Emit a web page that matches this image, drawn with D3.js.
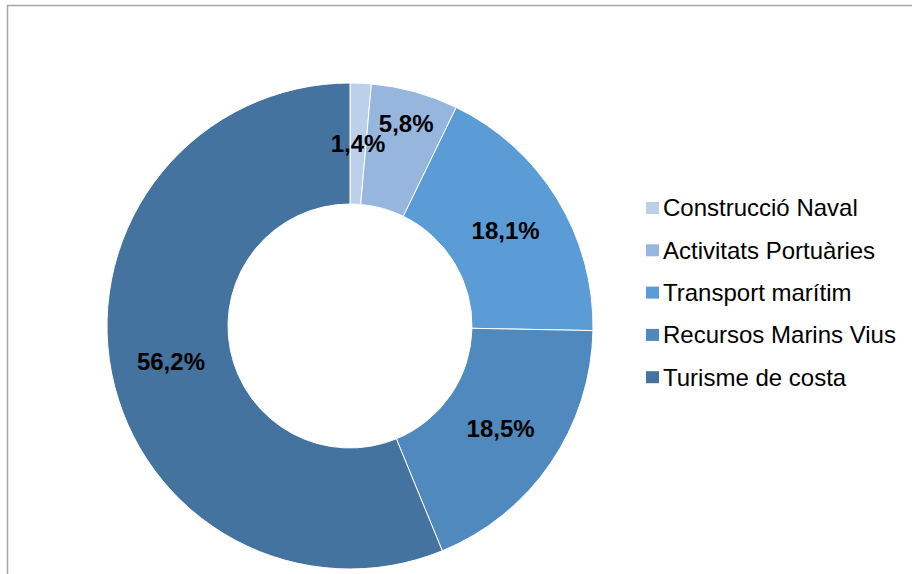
<!DOCTYPE html>
<html>
<head>
<meta charset="utf-8">
<script src="https://cdn.jsdelivr.net/npm/d3@7"></script>
<style>
  body { margin: 0; background: #fff; }
  svg { display: block; font-family: "Liberation Sans", Arial, sans-serif; }
</style>
</head>
<body>
<div id="chart"></div>
<script>
// sectors and their share (%)
var categories = ["Construcció Naval", "Activitats Portuàries", "Transport marítim", "Recursos Marins Vius", "Turisme de costa"];
var values = [1.4, 5.8, 18.1, 18.5, 56.2];
var labels = ["1,4%", "5,8%", "18,1%", "18,5%", "56,2%"];
var colours = ["#bcd0ea", "#97b6de", "#5b9bd6", "#4f89bd", "#44739f"];

var width = 912, height = 574;
var cx = 350, cy = 326;
var outerR = 243, innerR = 122;

var svg = d3.select("#chart").append("svg")
    .attr("width", width)
    .attr("height", height);

// chart area frame (only top/left visible in the crop)
svg.append("rect")
    .attr("x", 7.5).attr("y", 5.5)
    .attr("width", 930).attr("height", 600)
    .attr("fill", "none")
    .attr("stroke", "#a6a6a6")
    .attr("stroke-width", 1.5);

var data = categories.map(function (c, i) {
    return {name: c, value: values[i], label: labels[i], colour: colours[i]};
});

var pie = d3.pie().value(function (d) { return d.value; }).sort(null);
var arc = d3.arc().innerRadius(innerR).outerRadius(outerR);

var g = svg.append("g").attr("transform", "translate(" + cx + "," + cy + ")");

var slices = pie(data);

g.selectAll("path")
    .data(slices)
    .enter()
    .append("path")
    .attr("d", arc)
    .attr("fill", function (d) { return d.data.colour; })
    .attr("stroke", "#fff")
    .attr("stroke-width", 1);

// labels at the middle of the ring, pushed outwards when they collide
var fontSize = 24;
var midR = (innerR + outerR) / 2;
var placed = [];
slices.forEach(function (d) {
    var a = (d.startAngle + d.endAngle) / 2;
    var t = g.append("text")
        .attr("text-anchor", "middle")
        .attr("font-weight", "bold")
        .attr("font-size", fontSize)
        .attr("fill", "#000")
        .text(d.data.label);
    var w = t.node().getComputedTextLength();
    var h = fontSize * 0.85;
    var r = midR, x, y, box;
    function hits(b) {
        return placed.some(function (p) {
            return b.x0 < p.x1 && b.x1 > p.x0 && b.y0 < p.y1 && b.y1 > p.y0;
        });
    }
    do {
        x = r * Math.sin(a);
        y = -r * Math.cos(a);
        box = {x0: x - w / 2, x1: x + w / 2, y0: y - h / 2, y1: y + h / 2};
        r += 1;
    } while (hits(box) && r < outerR + 60);
    placed.push(box);
    t.attr("x", x).attr("y", y).attr("dy", "0.35em");
});

// legend
var legend = svg.append("g").attr("transform", "translate(646,208)");
var row = legend.selectAll("g")
    .data(data)
    .enter()
    .append("g")
    .attr("transform", function (d, i) { return "translate(0," + (i * 42.3) + ")"; });

row.append("rect")
    .attr("x", 0).attr("y", -6)
    .attr("width", 13).attr("height", 12)
    .attr("fill", function (d) { return d.colour; });

row.append("text")
    .attr("x", 17)
    .attr("dy", "0.35em")
    .attr("font-size", 24)
    .attr("fill", "#000")
    .text(function (d) { return d.name; });
</script>
</body>
</html>
